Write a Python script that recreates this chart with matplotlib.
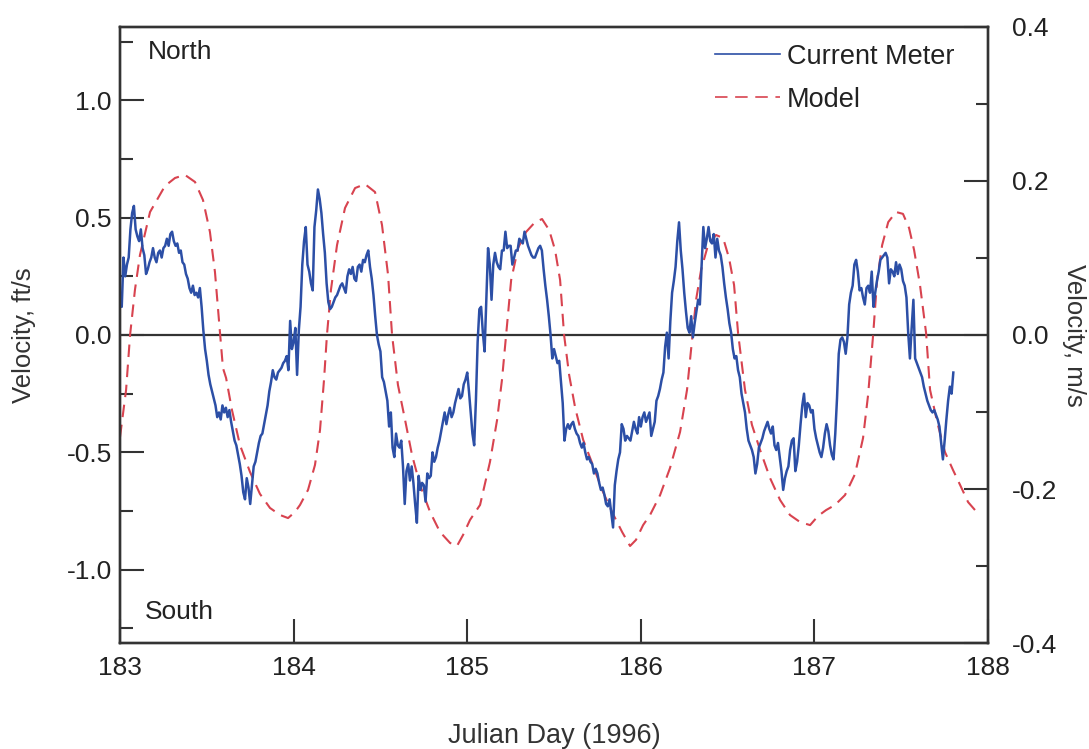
import numpy as np
import matplotlib
matplotlib.use("Agg")
import matplotlib.pyplot as plt
from matplotlib.lines import Line2D

plt.rcParams['font.family'] = ['Liberation Sans', 'DejaVu Sans']
plt.rcParams['lines.scale_dashes'] = False

FT_TO_M = 0.3048

# Current meter record, Julian day 183.00 - 187.80 at 0.01-day spacing (ft/s)
meter_start, meter_step = 183.0, 0.01
meter_ft = [
    # day 183
    0.17, 0.12, 0.33, 0.25, 0.30, 0.33, 0.45, 0.52, 0.55, 0.45,
    0.42, 0.40, 0.45, 0.37, 0.34, 0.26, 0.28, 0.31, 0.33, 0.37,
    0.33, 0.31, 0.35, 0.36, 0.33, 0.37, 0.38, 0.41, 0.38, 0.43,
    0.44, 0.40, 0.38, 0.39, 0.35, 0.36, 0.31, 0.30, 0.26, 0.24,
    0.20, 0.18, 0.21, 0.17, 0.18, 0.16, 0.20, 0.12, 0.02, -0.06,
    -0.11, -0.17, -0.21, -0.24, -0.27, -0.30, -0.35, -0.33, -0.36, -0.30,
    -0.33, -0.31, -0.35, -0.32, -0.37, -0.41, -0.45, -0.47, -0.51, -0.55,
    -0.60, -0.67, -0.70, -0.61, -0.65, -0.72, -0.64, -0.56, -0.54, -0.50,
    -0.46, -0.43, -0.42, -0.38, -0.34, -0.30, -0.24, -0.20, -0.15, -0.18,
    -0.19, -0.16, -0.15, -0.14, -0.12, -0.11, -0.09, -0.15, 0.06, -0.06,
    # day 184
    -0.03, 0.03, -0.17, 0.02, 0.12, 0.30, 0.40, 0.46, 0.30, 0.27,
    0.22, 0.19, 0.46, 0.53, 0.62, 0.58, 0.52, 0.43, 0.35, 0.22,
    0.14, 0.11, 0.12, 0.14, 0.16, 0.17, 0.19, 0.21, 0.22, 0.20,
    0.18, 0.25, 0.28, 0.26, 0.29, 0.24, 0.23, 0.29, 0.30, 0.27,
    0.32, 0.31, 0.34, 0.36, 0.29, 0.24, 0.17, 0.08, 0.00, -0.04,
    -0.07, -0.18, -0.20, -0.24, -0.28, -0.39, -0.33, -0.48, -0.52, -0.42,
    -0.47, -0.48, -0.45, -0.56, -0.72, -0.58, -0.55, -0.62, -0.56, -0.63,
    -0.72, -0.80, -0.60, -0.66, -0.63, -0.64, -0.71, -0.59, -0.61, -0.60,
    -0.50, -0.54, -0.52, -0.48, -0.45, -0.41, -0.37, -0.33, -0.38, -0.34,
    -0.31, -0.35, -0.33, -0.29, -0.26, -0.23, -0.27, -0.26, -0.21, -0.19,
    # day 185
    -0.16, -0.24, -0.33, -0.42, -0.47, -0.28, -0.03, 0.11, 0.12, 0.01,
    -0.07, 0.15, 0.37, 0.30, 0.15, 0.30, 0.35, 0.31, 0.29, 0.28,
    0.36, 0.36, 0.44, 0.37, 0.38, 0.38, 0.30, 0.33, 0.36, 0.36,
    0.41, 0.40, 0.39, 0.44, 0.41, 0.38, 0.36, 0.34, 0.33, 0.33,
    0.35, 0.37, 0.38, 0.36, 0.28, 0.21, 0.15, 0.08, 0.00, -0.10,
    -0.06, -0.09, -0.12, -0.11, -0.20, -0.29, -0.45, -0.40, -0.38, -0.40,
    -0.38, -0.37, -0.40, -0.42, -0.43, -0.46, -0.48, -0.46, -0.50, -0.53,
    -0.52, -0.54, -0.55, -0.59, -0.57, -0.59, -0.63, -0.66, -0.65, -0.68,
    -0.72, -0.73, -0.70, -0.76, -0.82, -0.64, -0.58, -0.53, -0.50, -0.38,
    -0.40, -0.45, -0.43, -0.44, -0.45, -0.41, -0.37, -0.40, -0.42, -0.35,
    # day 186
    -0.39, -0.35, -0.33, -0.37, -0.35, -0.33, -0.43, -0.40, -0.37, -0.28,
    -0.26, -0.23, -0.19, -0.16, -0.05, 0.01, -0.10, 0.06, 0.18, 0.23,
    0.29, 0.40, 0.48, 0.36, 0.28, 0.18, 0.10, 0.03, 0.01, 0.08,
    -0.01, 0.05, 0.10, 0.15, 0.13, 0.30, 0.46, 0.37, 0.41, 0.46,
    0.40, 0.39, 0.43, 0.33, 0.41, 0.36, 0.34, 0.29, 0.22, 0.16,
    0.11, 0.05, 0.01, -0.06, -0.10, -0.09, -0.15, -0.18, -0.25, -0.29,
    -0.33, -0.40, -0.45, -0.47, -0.49, -0.52, -0.59, -0.55, -0.48, -0.46,
    -0.44, -0.41, -0.39, -0.37, -0.40, -0.42, -0.39, -0.47, -0.49, -0.46,
    -0.52, -0.58, -0.66, -0.61, -0.58, -0.56, -0.49, -0.45, -0.44, -0.58,
    -0.54, -0.47, -0.38, -0.30, -0.25, -0.35, -0.29, -0.30, -0.33, -0.32,
    # day 187
    -0.40, -0.44, -0.47, -0.50, -0.52, -0.48, -0.42, -0.38, -0.41, -0.47,
    -0.51, -0.53, -0.42, -0.27, -0.08, -0.02, -0.01, -0.03, -0.08, -0.01,
    0.13, 0.18, 0.21, 0.30, 0.32, 0.27, 0.19, 0.20, 0.16, 0.13,
    0.20, 0.21, 0.18, 0.27, 0.12, 0.18, 0.23, 0.27, 0.32, 0.33,
    0.34, 0.35, 0.33, 0.22, 0.28, 0.27, 0.25, 0.31, 0.26, 0.30,
    0.28, 0.23, 0.21, 0.16, 0.01, -0.10, 0.03, 0.15, -0.10, -0.12,
    -0.14, -0.16, -0.18, -0.22, -0.25, -0.28, -0.30, -0.32, -0.33, -0.32,
    -0.34, -0.36, -0.39, -0.46, -0.53, -0.45, -0.36, -0.28, -0.22, -0.25,
    -0.16,
]
meter_day = meter_start + meter_step * np.arange(len(meter_ft))

# Model output (ft/s)
model_day = [
    183.000, 183.035, 183.058, 183.086, 183.115, 183.173, 183.259, 183.317,
    183.374, 183.432, 183.478, 183.518, 183.547, 183.576, 183.593, 183.611,
    183.645, 183.691, 183.749, 183.806, 183.864, 183.922, 183.968, 184.008,
    184.037, 184.083, 184.123, 184.152, 184.175, 184.192, 184.215, 184.250,
    184.296, 184.354, 184.411, 184.469, 184.509, 184.544, 184.567, 184.601,
    184.642, 184.682, 184.728, 184.786, 184.843, 184.901, 184.941, 184.976,
    185.016, 185.074, 185.131, 185.172, 185.200, 185.224, 185.253, 185.293,
    185.339, 185.391, 185.431, 185.472, 185.506, 185.535, 185.558, 185.587,
    185.622, 185.668, 185.719, 185.777, 185.834, 185.892, 185.938, 185.972,
    186.013, 186.053, 186.111, 186.168, 186.226, 186.266, 186.295, 186.318,
    186.347, 186.387, 186.433, 186.474, 186.508, 186.537, 186.560, 186.600,
    186.640, 186.687, 186.744, 186.802, 186.859, 186.917, 186.975, 187.021,
    187.067, 187.119, 187.176, 187.234, 187.280, 187.309, 187.338, 187.361,
    187.390, 187.425, 187.470, 187.510, 187.545, 187.574, 187.608, 187.643,
    187.666, 187.707, 187.752, 187.798, 187.839, 187.885, 187.925, 187.954,
]
model_ft = [
    -0.435, -0.234, 0.000, 0.192, 0.341, 0.524, 0.635, 0.669,
    0.682, 0.652, 0.575, 0.439, 0.268, 0.009, -0.141, -0.183,
    -0.320, -0.469, -0.584, -0.677, -0.737, -0.767, -0.780, -0.754,
    -0.724, -0.660, -0.554, -0.405, -0.192, 0.000, 0.192, 0.383,
    0.541, 0.626, 0.643, 0.609, 0.469, 0.256, 0.000, -0.213,
    -0.362, -0.511, -0.639, -0.754, -0.839, -0.886, -0.899, -0.852,
    -0.788, -0.724, -0.541, -0.362, -0.192, 0.000, 0.234, 0.371,
    0.439, 0.481, 0.494, 0.447, 0.362, 0.234, 0.000, -0.170,
    -0.311, -0.447, -0.545, -0.660, -0.754, -0.839, -0.899, -0.873,
    -0.810, -0.767, -0.682, -0.567, -0.413, -0.234, -0.021, 0.149,
    0.277, 0.383, 0.426, 0.413, 0.328, 0.213, 0.009, -0.234,
    -0.383, -0.490, -0.609, -0.703, -0.767, -0.797, -0.810, -0.771,
    -0.746, -0.724, -0.682, -0.592, -0.439, -0.256, 0.000, 0.234,
    0.383, 0.481, 0.524, 0.516, 0.456, 0.362, 0.213, 0.009,
    -0.234, -0.371, -0.499, -0.575, -0.639, -0.712, -0.746, -0.746,
]

left_ticks = [-1.0, -0.5, 0.0, 0.5, 1.0]
right_ticks = [-0.4, -0.2, 0.0, 0.2, 0.4]
day_ticks = [183, 184, 185, 186, 187, 188]

BLUE = '#2c4fa6'
RED = '#d8434f'
INK = '#333333'
TXT = '#222222'

fig = plt.figure(figsize=(10.89, 7.49), dpi=100)
ax = fig.add_axes([0.1102, 0.1415, 0.7971, 0.8225])

ylim_m = 0.4
ax.set_xlim(183, 188)
ax.set_ylim(-ylim_m / FT_TO_M, ylim_m / FT_TO_M)

ax.axhline(0, color=INK, lw=1.6, zorder=1)
ax.plot(meter_day, meter_ft, color=BLUE, lw=1.8, zorder=3)
ax.plot(model_day, model_ft, color=RED, lw=1.5, dashes=(9, 5.5), zorder=2)

ax.set_xticks(day_ticks)
ax.set_xticklabels([str(d) for d in day_ticks])
ax.set_yticks(left_ticks)
ax.set_yticklabels([f'{v:.1f}' for v in left_ticks])
ax.set_yticks([-1.25, -0.75, -0.25, 0.25, 0.75, 1.25], minor=True)
ax.tick_params(axis='both', which='major', direction='in', length=17,
               width=1.5, color=INK, labelsize=19, labelcolor=TXT)
ax.tick_params(axis='y', which='minor', direction='in', length=9,
               width=1.5, color=INK)
ax.tick_params(axis='x', pad=9)
ax.tick_params(axis='y', pad=6)

ax2 = ax.twinx()
ax2.set_ylim(-ylim_m, ylim_m)
ax2.set_yticks(right_ticks)
ax2.set_yticklabels([f'{v:.1f}' for v in right_ticks])
ax2.set_yticks([-0.3, -0.1, 0.1, 0.3], minor=True)
ax2.tick_params(axis='y', which='major', direction='in', length=17,
                width=1.5, color=INK, labelsize=19, labelcolor=TXT, pad=17)
ax2.tick_params(axis='y', which='minor', direction='in', length=9,
                width=1.5, color=INK)

for a in (ax, ax2):
    for sp in a.spines.values():
        sp.set_color(INK)
        sp.set_linewidth(1.7)

ax.set_xlabel('Julian Day (1996)', fontsize=19.5, color='#333333', labelpad=31)
ax.set_ylabel('Velocity, ft/s', fontsize=18.5, color='#333333', labelpad=22)
ax2.set_ylabel('Velocity, m/s', fontsize=18.5, color='#333333', rotation=270,
               labelpad=21)

ax.text(0.032, 0.96, 'North', transform=ax.transAxes, fontsize=19,
        color=TXT, va='center', ha='left')
ax.text(0.029, 0.05, 'South', transform=ax.transAxes, fontsize=19,
        color=TXT, va='center', ha='left')

handles = [Line2D([], [], color=BLUE, lw=1.2),
           Line2D([], [], color=RED, lw=1.2, dashes=(9, 5.5))]
leg = ax.legend(handles, ['Current Meter', 'Model'], loc='upper left',
                bbox_to_anchor=(0.6855, 0.9725), frameon=False, fontsize=19.5,
                handlelength=2.4, handletextpad=0.26, labelspacing=0.62,
                borderpad=0, borderaxespad=0)
for t in leg.get_texts():
    t.set_color(TXT)

fig.savefig('out.png', dpi=100)
